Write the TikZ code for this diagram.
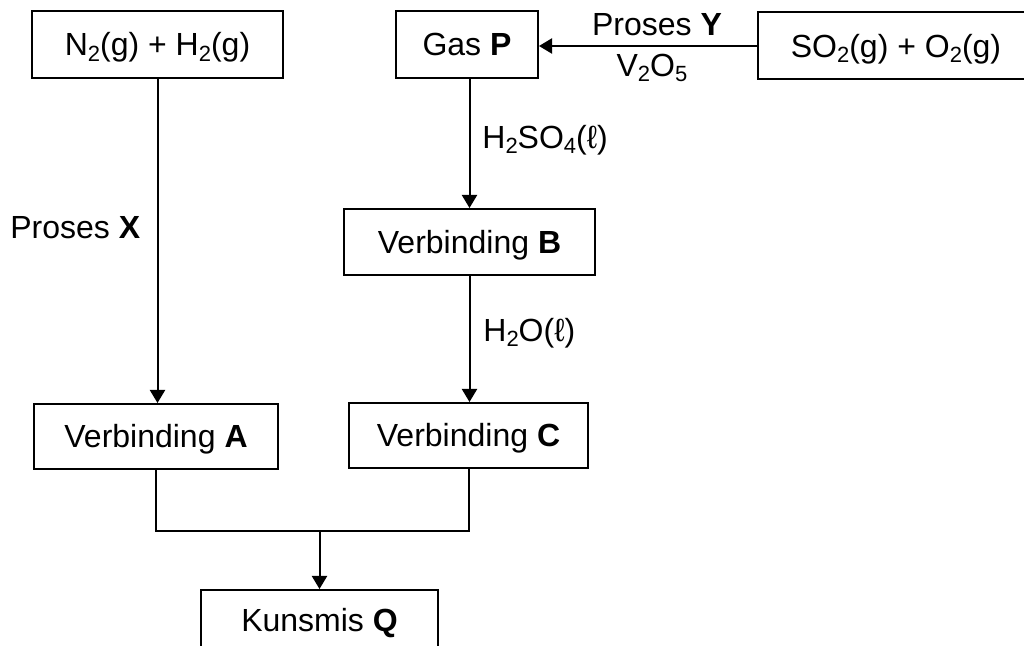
\documentclass[tikz,border=0pt]{standalone}
\usepackage{fontspec}
\setmainfont{Liberation Sans}
\usetikzlibrary{arrows.meta}
\newcommand{\chsub}[1]{\raisebox{-0.3ex}{\fontsize{11}{11}\selectfont #1}}
\begin{document}
\begin{tikzpicture}[x=0.5pt,y=-0.5pt,
  box/.style={draw, line width=1pt, inner sep=0pt, text height=11.5pt, text depth=0pt, font=\fontsize{16}{19}\selectfont},
  lbl/.style={inner sep=0pt, font=\fontsize{16}{19}\selectfont},
  arr/.style={line width=1pt, -{Triangle[length=6.5pt,width=7.5pt]}},
  ln/.style={line width=1pt}]
\useasboundingbox (0,0) rectangle (1024,646);
\clip (0,0) rectangle (1024,646);
\node[box, minimum width=125.5pt, minimum height=33.5pt] (N2) at (157.5,44.5) {N\chsub{2}(g) + H\chsub{2}(g)};
\node[box, minimum width=71pt, minimum height=33.5pt] (P) at (467,44.5) {Gas \textbf{P}};
\node[box, minimum width=138pt, minimum height=33.5pt] (SO2) at (896,46) {SO\chsub{2}(g) + O\chsub{2}(g)};
\node[box, minimum width=125.5pt, minimum height=33pt] (B) at (469.5,242) {Verbinding \textbf{B}};
\node[box, minimum width=122pt, minimum height=32.5pt] (A) at (156,436.5) {Verbinding \textbf{A}};
\node[box, minimum width=119.5pt, minimum height=32.5pt] (C) at (468.5,435.5) {Verbinding \textbf{C}};
\node[box, minimum width=118.5pt, minimum height=30pt] (Q) at (319.5,620) {Kunsmis \textbf{Q}};
\node[lbl] (ly) at (657,25) {Proses \textbf{Y}};
\node[lbl] (lv) at (652,68) {V\chsub{2}O\chsub{5}};
\node[lbl, anchor=west] (lh2so4) at (482,140) {H\chsub{2}SO\chsub{4}(ℓ)};
\node[lbl, anchor=west] (lh2o) at (483,333) {H\chsub{2}O(ℓ)};
\node[lbl, anchor=west] (lx) at (10,228) {Proses \textbf{X}};
\draw[arr] (SO2.west) -- (SO2.west -| P.east);
\draw[arr] (N2.south) -- (N2.south |- A.north);
\draw[arr] (B.north |- P.south) -- (B.north);
\draw[arr] (B.south) -- (B.south |- C.north);
\coordinate (J) at (319.5,531);
\draw[ln] (A.south) -- (A.south |- J) -| (C.south);
\draw[arr] (J) -- (Q.north);
\end{tikzpicture}
\end{document}
